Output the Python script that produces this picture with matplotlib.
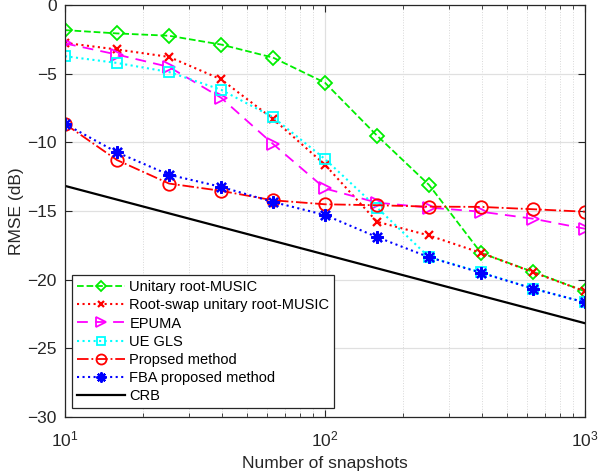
import numpy as np
import matplotlib
matplotlib.use("Agg")
import matplotlib.pyplot as plt
from matplotlib.ticker import LogLocator, NullFormatter

plt.rcParams['font.family'] = ['Liberation Sans', 'DejaVu Sans']

# snapshots (log-spaced, 10 ... 1000)
snapshots = [10, 15.85, 25.12, 39.81, 63.1, 100, 158.5, 251.2, 398.1, 631, 1000]

# RMSE in dB for each method
unitary_music = [-1.83, -2.07, -2.24, -2.88, -3.83, -5.66, -9.51, -13.1, -18.05, -19.43, -20.85]
root_swap = [-2.76, -3.24, -3.78, -5.41, -8.29, -11.63, -15.78, -16.78, -18.05, -19.46, -20.85]
epuma = [-2.8, -3.61, -4.51, -6.75, -10.12, -13.36, -14.39, -14.75, -15.05, -15.56, -16.29]
ue_gls = [-3.73, -4.22, -4.88, -6.17, -8.17, -11.22, -14.75, -18.36, -19.46, -20.65, -21.65]
proposed = [-8.66, -11.29, -13.0, -13.53, -14.22, -14.51, -14.58, -14.68, -14.7, -14.87, -15.05]
fba_proposed = [-8.66, -10.73, -12.36, -13.24, -14.34, -15.29, -16.9, -18.36, -19.5, -20.65, -21.65]
crb = [-13.17, -14.17, -15.17, -16.17, -17.17, -18.17, -19.17, -20.17, -21.17, -22.17, -23.17]

fig = plt.figure(figsize=(5.98, 4.75), dpi=100)
ax = fig.add_axes([0.1087, 0.122, 0.8696, 0.8675])

mfc = 'none'
asterisk = (8, 2, 0)
ax.plot(snapshots, unitary_music, '--', color='#00ee00', marker='D', markersize=7,
        mfc=mfc, mew=1.3, lw=1.3, label='Unitary root-MUSIC')
ax.plot(snapshots, root_swap, ':', color='#ff0000', marker='x', markersize=6,
        mew=1.6, lw=1.5, label='Root-swap unitary root-MUSIC')
ax.plot(snapshots, epuma, '--', color='#ff00ff', marker='>', markersize=9,
        mfc=mfc, mew=1.3, lw=1.3, dashes=(6, 4), label='EPUMA')
ax.plot(snapshots, ue_gls, ':', color='#00ffff', marker='s', markersize=7,
        mfc=mfc, mew=1.3, lw=1.5, label='UE GLS')
ax.plot(snapshots, proposed, '-.', color='#ff0000', marker='o', markersize=9,
        mfc=mfc, mew=1.3, lw=1.3, label='Propsed method')
ax.plot(snapshots, fba_proposed, ':', color='#0000ff', marker=asterisk, markersize=9,
        mew=1.6, lw=1.5, label='FBA proposed method')
ax.plot(snapshots, crb, '-', color='black', lw=1.6, label='CRB')

ax.set_xscale('log')
ax.set_xlim(10, 1000)
ax.set_ylim(-30, 0)
ax.set_yticks(range(-30, 1, 5))
ax.xaxis.set_minor_locator(LogLocator(base=10, subs=np.arange(2, 10)))
ax.xaxis.set_minor_formatter(NullFormatter())

ax.grid(True, which='major', color='#e0e0e0', lw=0.9)
ax.grid(True, which='minor', axis='x', color='#d8d8d8', lw=0.7, ls=':')
ax.set_axisbelow(True)

ax.tick_params(direction='in', which='both', top=True, right=True, labelsize=12.5,
               colors='#262626')
ax.tick_params(which='minor', length=3)
ax.tick_params(which='major', length=5, pad=6)
ax.tick_params(axis='x', which='major', pad=9)
for s in ax.spines.values():
    s.set_color('#262626')
    s.set_linewidth(0.9)

ax.set_xlabel('Number of snapshots', fontsize=12.5, color='#262626', labelpad=5)
ax.set_ylabel('RMSE (dB)', fontsize=12.5, color='#262626', labelpad=2)

leg = ax.legend(loc='lower left', bbox_to_anchor=(0.013, 0.022), fontsize=10.5,
                handlelength=3.3, handletextpad=0.3, labelspacing=0.28,
                borderpad=0.35, fancybox=False, framealpha=1, markerscale=0.8,
                edgecolor='#262626', borderaxespad=0)
leg.get_frame().set_linewidth(0.9)

fig.savefig('out.png', dpi=100)
